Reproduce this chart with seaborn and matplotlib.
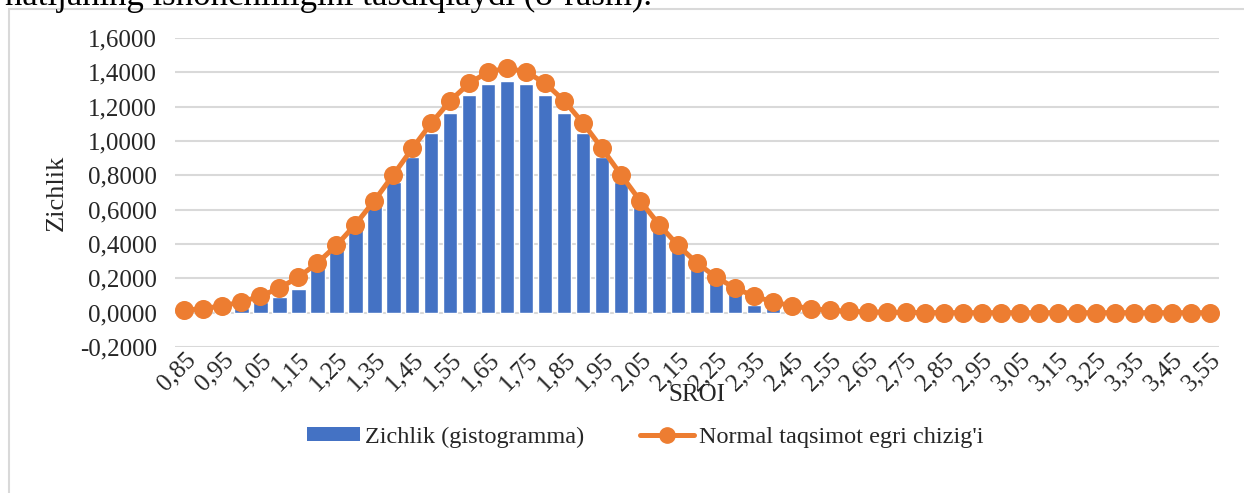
import matplotlib
matplotlib.use("Agg")
import matplotlib.pyplot as plt
from matplotlib.ticker import FuncFormatter, MultipleLocator
from matplotlib.patches import Patch, Rectangle
from matplotlib.lines import Line2D
import pandas as pd
import seaborn as sns

# --- Data ---
sroi = ["0,85", "0,90", "0,95", "1,00", "1,05", "1,10", "1,15", "1,20", "1,25", "1,30",
        "1,35", "1,40", "1,45", "1,50", "1,55", "1,60", "1,65", "1,70", "1,75", "1,80",
        "1,85", "1,90", "1,95", "2,00", "2,05", "2,10", "2,15", "2,20", "2,25", "2,30",
        "2,35", "2,40", "2,45", "2,50", "2,55", "2,60", "2,65", "2,70", "2,75", "2,80",
        "2,85", "2,90", "2,95", "3,00", "3,05", "3,10", "3,15", "3,20", "3,25", "3,30",
        "3,35", "3,40", "3,45", "3,50", "3,55"]

zichlik = [0.000, 0.000, 0.010, 0.030, 0.060, 0.090, 0.135, 0.260, 0.365, 0.490,
           0.620, 0.760, 0.905, 1.045, 1.165, 1.266, 1.330, 1.350, 1.330, 1.266,
           1.165, 1.045, 0.905, 0.760, 0.615, 0.485, 0.365, 0.255, 0.180, 0.120,
           0.045, 0.028, 0.010, 0.000, 0.000, 0.000, 0.000, 0.000, 0.000, 0.000,
           0.000, 0.000, 0.000, 0.000, 0.000, 0.000, 0.000, 0.000, 0.000, 0.000,
           0.000, 0.000, 0.000, 0.000, 0.000]

normal = [0.0142, 0.0240, 0.0394, 0.0626, 0.0963, 0.1435, 0.2070, 0.2893, 0.3916, 0.5135,
          0.6523, 0.8026, 0.9565, 1.1039, 1.2343, 1.3367, 1.4023, 1.4248, 1.4023, 1.3367,
          1.2343, 1.1039, 0.9565, 0.8026, 0.6523, 0.5135, 0.3916, 0.2893, 0.2070, 0.1435,
          0.0963, 0.0626, 0.0394, 0.0240, 0.0142, 0.0081, 0.0045, 0.0024, 0.0013, 0.0006,
          0.0003, 0.0002, 0.0001, 0.0000, 0.0000, 0.0000, 0.0000, 0.0000, 0.0000, 0.0000,
          0.0000, 0.0000, 0.0000, 0.0000, 0.0000]

label_bar = "Zichlik (gistogramma)"
label_line = "Normal taqsimot egri chizig'i"

BLUE = "#4472C4"
ORANGE = "#ED7D31"
GRID = "#D9D9D9"

df = pd.DataFrame({"SROI": sroi, "hist": zichlik, "norm": normal})

sns.set_theme(style="white")
plt.rcParams["font.family"] = ["Liberation Serif", "DejaVu Serif"]

W, H = 1244, 493
fig = plt.figure(figsize=(W / 100, H / 100), dpi=100)

# page text above the chart (cut off at the top)
fig.text(0.004, 1 - 5 / H, "natijaning ishonchliligini tasdiqlaydi (8-rasm).",
         fontsize=25, va="baseline", ha="left", color="black")

# chart frame
fig.patches.append(Rectangle((9 / W, -0.2), 2, 1.2 - 9 / H, transform=fig.transFigure,
                             fill=False, edgecolor=GRID, linewidth=1.5))

ax = fig.add_axes([175 / W, 1 - 347 / H, (1219 - 175) / W, (347 - 38) / H])

sns.barplot(data=df, x="SROI", y="hist", order=sroi, color=BLUE, saturation=1,
            width=0.76, ax=ax, zorder=2)
sns.pointplot(data=df, x="SROI", y="norm", order=sroi, color=ORANGE, markers="o",
              markersize=11, linewidth=3.6, errorbar=None, ax=ax, zorder=3)

ax.set_ylim(-0.2, 1.6)
ax.set_xlim(-0.5, len(sroi) - 0.5)
ax.yaxis.set_major_locator(MultipleLocator(0.2))
ax.yaxis.set_major_formatter(FuncFormatter(lambda v, p: f"{v:.4f}".replace(".", ",")))
ax.grid(axis="y", color=GRID, linewidth=1.5, zorder=0)
ax.set_axisbelow(True)
for s in ax.spines.values():
    s.set_visible(False)

ax.set_xticks(range(0, len(sroi), 2))
ax.set_xticklabels(sroi[::2], rotation=45, ha="right", va="top", rotation_mode="anchor")
ax.tick_params(axis="x", length=0, pad=1, labelsize=18)
ax.tick_params(axis="y", length=0, pad=13, labelsize=18)

ax.set_xlabel("SROI", fontsize=18)
ax.xaxis.set_label_coords(0.5, -0.12)
ax.set_ylabel("Zichlik", fontsize=19)
ax.yaxis.set_label_coords(-0.103, 0.5)

handles = [Patch(facecolor=BLUE, edgecolor="none"),
           Line2D([0], [0], color=ORANGE, linewidth=3.6, marker="o", markersize=11)]
fig.legend(handles, [label_bar, label_line], loc="center",
           bbox_to_anchor=(645 / W, 1 - 437 / H), ncol=2, frameon=False, fontsize=17.5,
           handlelength=2.2, handleheight=0.5, handletextpad=0.2, columnspacing=2.3)

fig.savefig("out.png", dpi=100)
